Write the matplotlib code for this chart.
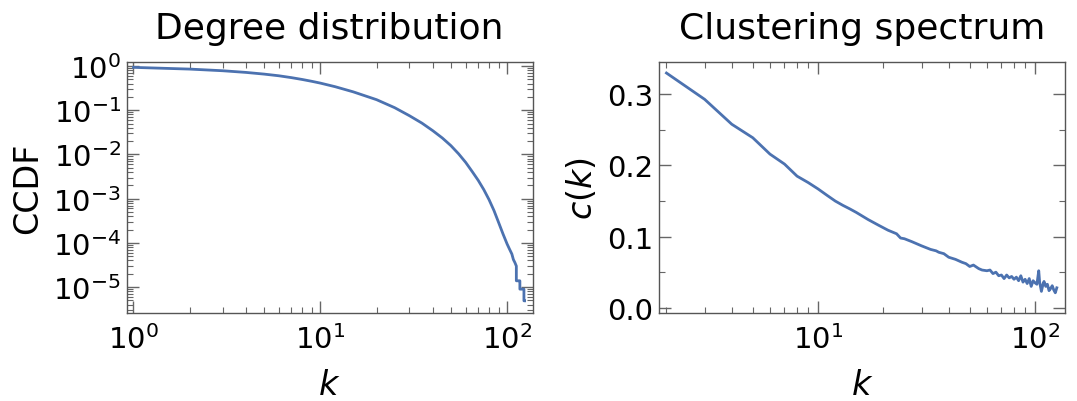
import matplotlib
matplotlib.use("Agg")
import matplotlib.pyplot as plt
from matplotlib.ticker import LogLocator, MultipleLocator, NullFormatter

# ---- data: degree distribution (CCDF) ----
deg_k = [1, 2, 3, 4, 5, 6, 7, 8, 9, 10, 12, 15, 20, 25, 30, 35, 40, 45, 50, 55, 60,
         65, 70, 75, 80, 85, 90, 95, 100, 103, 106, 108, 110, 112, 112, 116, 117,
         117, 123, 123, 124]
deg_ccdf = [0.93, 0.85, 0.78, 0.715, 0.655, 0.60, 0.545, 0.495, 0.45, 0.41, 0.34,
            0.26, 0.173, 0.114, 0.075, 0.051, 0.0344, 0.0235, 0.0158, 0.0103,
            0.0066, 0.0041, 0.0026, 0.0016, 9.5e-4, 5.4e-4, 2.9e-4, 1.6e-4, 9.4e-5,
            7.2e-5, 5.6e-5, 4.2e-5, 3.6e-5, 3.0e-5, 1.39e-5, 1.39e-5, 1.39e-5,
            9.0e-6, 9.0e-6, 4.9e-6, 4.9e-6]

# ---- data: clustering spectrum ----
clu_k = [2, 3, 4, 5, 6, 7, 8, 9, 10, 11, 12, 13, 14, 15, 17, 19, 21, 23, 24, 25,
         27, 30, 33, 35, 36, 38, 40, 43, 46, 48, 50, 52, 55, 57, 60, 62, 64, 66,
         68, 70, 72, 74, 76, 78, 80, 82, 84, 86, 88, 90, 92, 94, 96, 98, 100, 102,
         104, 105, 107, 109, 110, 112, 114, 116, 118, 120, 122, 124, 126]
clu_c = [0.330, 0.293, 0.258, 0.239, 0.216, 0.202, 0.185, 0.176, 0.167, 0.158,
         0.150, 0.144, 0.139, 0.134, 0.124, 0.116, 0.109, 0.104, 0.098, 0.097,
         0.093, 0.087, 0.082, 0.080, 0.078, 0.076, 0.071, 0.068, 0.064, 0.062,
         0.058, 0.060, 0.055, 0.053, 0.052, 0.053, 0.048, 0.050, 0.045, 0.046,
         0.041, 0.046, 0.042, 0.044, 0.040, 0.043, 0.038, 0.045, 0.036, 0.040,
         0.034, 0.041, 0.030, 0.038, 0.035, 0.033, 0.052, 0.036, 0.023, 0.034,
         0.037, 0.030, 0.033, 0.024, 0.027, 0.031, 0.025, 0.021, 0.028]

line_color = "#4c72b0"
spine_color = "#555555"
tick_color = "#666666"

plt.rcParams["font.family"] = ["DejaVu Sans"]
plt.rcParams["mathtext.fontset"] = "dejavusans"

fig = plt.figure(figsize=(10.77, 4.02), dpi=100)
ax1 = fig.add_axes([0.1175, 0.2189, 0.3771, 0.6244])
ax2 = fig.add_axes([0.6117, 0.2189, 0.3772, 0.6244])

def style(ax):
    for s in ax.spines.values():
        s.set_color(spine_color)
        s.set_linewidth(1.0)
    ax.tick_params(which="both", direction="in", top=True, right=True,
                   colors=tick_color, labelcolor="black", labelsize=21)
    ax.tick_params(which="major", length=8.5, width=1.0)
    ax.tick_params(which="minor", length=4.5, width=0.8)
    ax.tick_params(axis="x", which="both", pad=8)
    ax.tick_params(axis="y", which="both", pad=4)

ax1.plot(deg_k, deg_ccdf, color=line_color, lw=2.0)
ax1.set_xscale("log")
ax1.set_yscale("log")
ax1.set_xlim(0.918, 137)
ax1.set_ylim(2.6e-6, 1.23)
ax1.yaxis.set_major_locator(LogLocator(base=10, numticks=12))
ax1.yaxis.set_minor_locator(LogLocator(base=10, subs=range(2, 10), numticks=12))
ax1.yaxis.set_minor_formatter(NullFormatter())
style(ax1)
ax1.set_title("Degree distribution", fontsize=26, pad=17)
ax1.set_xlabel("$k$", fontsize=24, labelpad=10)
ax1.set_ylabel("CCDF", fontsize=24, labelpad=6)

ax2.plot(clu_k, clu_c, color=line_color, lw=2.0)
ax2.set_xscale("log")
ax2.set_xlim(1.844, 137.5)
ax2.set_ylim(-0.0074, 0.3455)
ax2.yaxis.set_major_locator(MultipleLocator(0.1))
ax2.yaxis.set_minor_locator(MultipleLocator(0.05))
ax2.xaxis.set_minor_formatter(NullFormatter())
style(ax2)
ax2.set_title("Clustering spectrum", fontsize=26, pad=17)
ax2.set_xlabel("$k$", fontsize=24, labelpad=10)
ax2.set_ylabel("$c(k)$", fontsize=24, labelpad=6)

fig.savefig("out.png", dpi=100)
